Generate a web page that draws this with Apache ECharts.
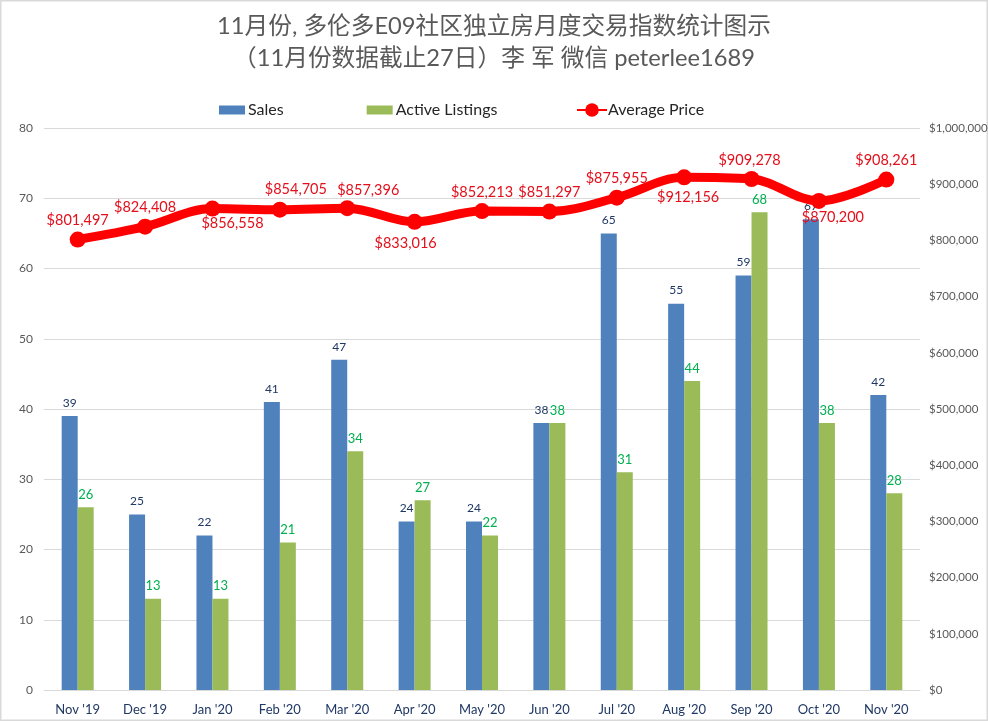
<!DOCTYPE html>
<html>
<head>
<meta charset="utf-8">
<title>E09</title>
<style>
html, body { margin: 0; padding: 0; background: #fff; }
#main { width: 988px; height: 721px; }
</style>
<script src="https://cdn.jsdelivr.net/npm/echarts@6/dist/echarts.min.js"></script>
</head>
<body>
<div id="main"></div>
<script>
// 数据
const months = ["Nov '19", "Dec '19", "Jan '20", "Feb '20", "Mar '20", "Apr '20", "May '20", "Jun '20", "Jul '20", "Aug '20", "Sep '20", "Oct '20", "Nov '20"];
const sales = [39, 25, 22, 41, 47, 24, 24, 38, 65, 55, 59, 67, 42];
const activeListings = [26, 13, 13, 21, 34, 27, 22, 38, 31, 44, 68, 38, 28];
const averagePrice = [801497, 824408, 856558, 854705, 857396, 833016, 852213, 851297, 875955, 912156, 909278, 870200, 908261];
// 价格标签相对数据点的偏移
const priceLabelOffset = [[0, -19], [0, -19], [20, 15], [16, -20], [21, -18], [-9, 21], [0, -19], [0, -19], [0, -19], [4, 20], [-2, -19], [14, 16], [0, -19]];

const FONT = 'Lato, "Noto Sans CJK SC", sans-serif';
const money = v => '$' + v.toLocaleString('en-US');

const chart = echarts.init(document.getElementById('main'));
chart.setOption({
    animation: false,
    backgroundColor: '#fff',
    textStyle: { fontFamily: FONT },
    graphic: [{
        type: 'rect',
        silent: true,
        shape: { x: 0.5, y: 0.5, width: 987, height: 720 },
        style: { fill: 'none', stroke: '#d9d9d9', lineWidth: 2 }
    }],
    title: {
        text: '11月份, 多伦多E09社区独立房月度交易指数统计图示\n（11月份数据截止27日）李 军 微信 peterlee1689',
        left: 'center',
        top: 5,
        textStyle: { fontFamily: FONT, fontSize: 23.7, fontWeight: 'normal', color: '#595959', lineHeight: 32 }
    },
    legend: [{
        left: 214,
        top: 97,
        itemWidth: 26,
        itemHeight: 9,
        itemGap: 83,
        textStyle: { fontFamily: FONT, fontSize: 16, color: '#262626', padding: [0, 0, 0, -2] },
        data: [
            { name: 'Sales', icon: 'rect' },
            { name: 'Active Listings', icon: 'rect' }
        ]
    }, {
        left: 571,
        top: 97,
        itemWidth: 30,
        itemHeight: 17,
        textStyle: { fontFamily: FONT, fontSize: 16, color: '#262626', padding: [0, 0, 0, -4] },
        data: ['Average Price']
    }],
    grid: { left: 44, right: 68, top: 128, bottom: 31, outerBoundsMode: 'none' },
    xAxis: {
        type: 'category',
        data: months,
        axisTick: { show: false },
        axisLine: { lineStyle: { color: '#d9d9d9' } },
        axisLabel: { color: '#1f3864', fontSize: 13, margin: 13, interval: 0 }
    },
    yAxis: [{
        type: 'value',
        min: 0,
        max: 80,
        interval: 10,
        axisLabel: { color: '#595959', fontSize: 12, margin: 11 },
        splitLine: { lineStyle: { color: '#d9d9d9' } }
    }, {
        type: 'value',
        min: 0,
        max: 1000000,
        interval: 100000,
        axisLabel: { color: '#595959', fontSize: 11.5, margin: 9, formatter: money },
        splitLine: { show: false }
    }],
    series: [{
        name: 'Sales',
        type: 'bar',
        data: sales,
        barWidth: 16,
        barGap: 0,
        itemStyle: { color: '#4f81bd' },
        label: { show: true, position: 'top', distance: 7, fontSize: 12, color: '#1f3864' }
    }, {
        name: 'Active Listings',
        type: 'bar',
        data: activeListings,
        barWidth: 16,
        itemStyle: { color: '#9bbb59' },
        label: { show: true, position: 'top', distance: 6, fontSize: 13, color: '#00b050' }
    }, {
        name: 'Average Price',
        type: 'line',
        yAxisIndex: 1,
        smooth: 0.35,
        z: 5,
        symbol: 'circle',
        symbolSize: 16,
        lineStyle: { color: '#ff0000', width: 9 },
        itemStyle: { color: '#ff0000' },
        data: averagePrice.map((v, i) => ({
            value: v,
            label: { offset: priceLabelOffset[i] }
        })),
        label: {
            show: true,
            position: 'inside',
            align: 'center',
            verticalAlign: 'middle',
            fontSize: 14.5,
            color: '#e3101c',
            formatter: p => money(p.value)
        }
    }]
});
</script>
</body>
</html>
